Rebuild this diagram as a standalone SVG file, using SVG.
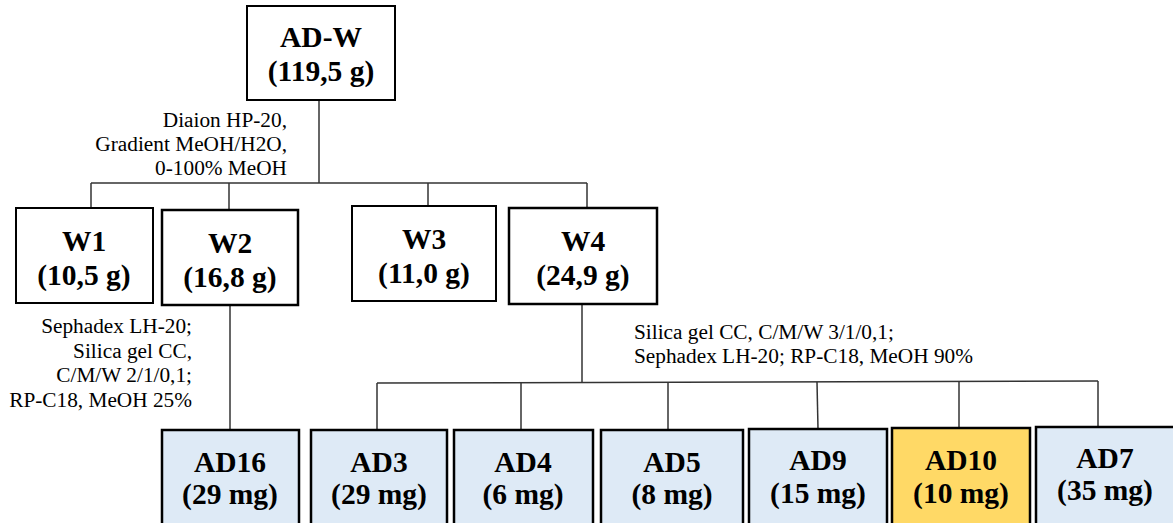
<svg xmlns="http://www.w3.org/2000/svg" width="1173" height="523" viewBox="0 0 1173 523">
<style>
.box{fill:#fff;stroke:#000;stroke-width:2}
.boxb{fill:#fff;stroke:#000;stroke-width:2.5}
.blue{fill:#DEEAF6;stroke:#000;stroke-width:2.5}
.gold{fill:#FFD966;stroke:#000;stroke-width:2.5}
.t{font-family:"Liberation Serif",serif;font-weight:bold;font-size:29.5px;text-anchor:middle;fill:#000}
.lbl{font-family:"Liberation Serif",serif;font-size:21.3px;fill:#000}
.r{text-anchor:end}
.conn line{stroke:#333;stroke-width:1.5}
</style>
<rect width="1173" height="523" fill="#fff"/>
<g class="conn">
<line x1="319" y1="100" x2="319" y2="183"/>
<line x1="91" y1="183" x2="587" y2="183"/>
<line x1="91" y1="183" x2="91" y2="208"/>
<line x1="229" y1="183" x2="229" y2="210"/>
<line x1="428" y1="183" x2="428" y2="206"/>
<line x1="587" y1="183" x2="587" y2="208"/>
<line x1="230" y1="305" x2="230" y2="430"/>
<line x1="582" y1="304" x2="582" y2="383"/>
<line x1="377" y1="383" x2="1098" y2="381"/>
<line x1="377" y1="383" x2="377" y2="430"/>
<line x1="521" y1="383" x2="521" y2="430"/>
<line x1="668" y1="382" x2="668" y2="430"/>
<line x1="817" y1="382" x2="818" y2="429"/>
<line x1="959" y1="381" x2="959" y2="428"/>
<line x1="1098" y1="381" x2="1098" y2="427"/>
</g>
<g id="label-diaion">
<text class="lbl r" x="287" y="127">Diaion HP-20,</text>
<text class="lbl r" x="287" y="151">Gradient MeOH/H2O,</text>
<text class="lbl r" x="287" y="175">0-100% MeOH</text>
</g>
<g id="label-w2">
<text class="lbl r" x="192" y="333">Sephadex LH-20;</text>
<text class="lbl r" x="192" y="358">Silica gel CC,</text>
<text class="lbl r" x="192" y="382">C/M/W 2/1/0,1;</text>
<text class="lbl r" x="192" y="407">RP-C18, MeOH 25%</text>
</g>
<g id="label-w4">
<text class="lbl" x="634" y="339">Silica gel CC, C/M/W 3/1/0,1;</text>
<text class="lbl" x="634" y="363">Sephadex LH-20; RP-C18, MeOH 90%</text>
</g>
<g id="ADW">
<rect class="box" x="247" y="6" width="148" height="94"/>
<text class="t" x="321" y="47">AD-W</text>
<text class="t" x="321" y="81">(119,5 g)</text>
</g>
<g id="W1">
<rect class="box" x="16" y="208" width="137" height="95"/>
<text class="t" x="84" y="251">W1</text>
<text class="t" x="84" y="285">(10,5 g)</text>
</g>
<g id="W2">
<rect class="boxb" x="162" y="210" width="136" height="95"/>
<text class="t" x="230" y="253">W2</text>
<text class="t" x="230" y="287">(16,8 g)</text>
</g>
<g id="W3">
<rect class="box" x="352" y="206" width="144" height="95"/>
<text class="t" x="424" y="249">W3</text>
<text class="t" x="424" y="283">(11,0 g)</text>
</g>
<g id="W4">
<rect class="boxb" x="509" y="208" width="148" height="96"/>
<text class="t" x="583" y="251">W4</text>
<text class="t" x="583" y="285">(24,9 g)</text>
</g>
<g id="AD16">
<rect class="blue" x="162" y="430" width="137" height="100"/>
<text class="t" x="230" y="472">AD16</text>
<text class="t" x="230" y="504">(29 mg)</text>
</g>
<g id="AD3">
<rect class="blue" x="311" y="430" width="136" height="100"/>
<text class="t" x="379" y="472">AD3</text>
<text class="t" x="379" y="504">(29 mg)</text>
</g>
<g id="AD4">
<rect class="blue" x="454" y="430" width="139" height="100"/>
<text class="t" x="523" y="472">AD4</text>
<text class="t" x="523" y="504">(6 mg)</text>
</g>
<g id="AD5">
<rect class="blue" x="601" y="430" width="142" height="100"/>
<text class="t" x="672" y="472">AD5</text>
<text class="t" x="672" y="504">(8 mg)</text>
</g>
<g id="AD9">
<rect class="blue" x="749" y="429" width="138" height="100"/>
<text class="t" x="818" y="470">AD9</text>
<text class="t" x="818" y="503">(15 mg)</text>
</g>
<g id="AD10">
<rect class="gold" x="892" y="428" width="138" height="100"/>
<text class="t" x="961" y="470">AD10</text>
<text class="t" x="961" y="503">(10 mg)</text>
</g>
<g id="AD7">
<rect class="blue" x="1036" y="427" width="140" height="100"/>
<text class="t" x="1105" y="468">AD7</text>
<text class="t" x="1105" y="500">(35 mg)</text>
</g>
</svg>
